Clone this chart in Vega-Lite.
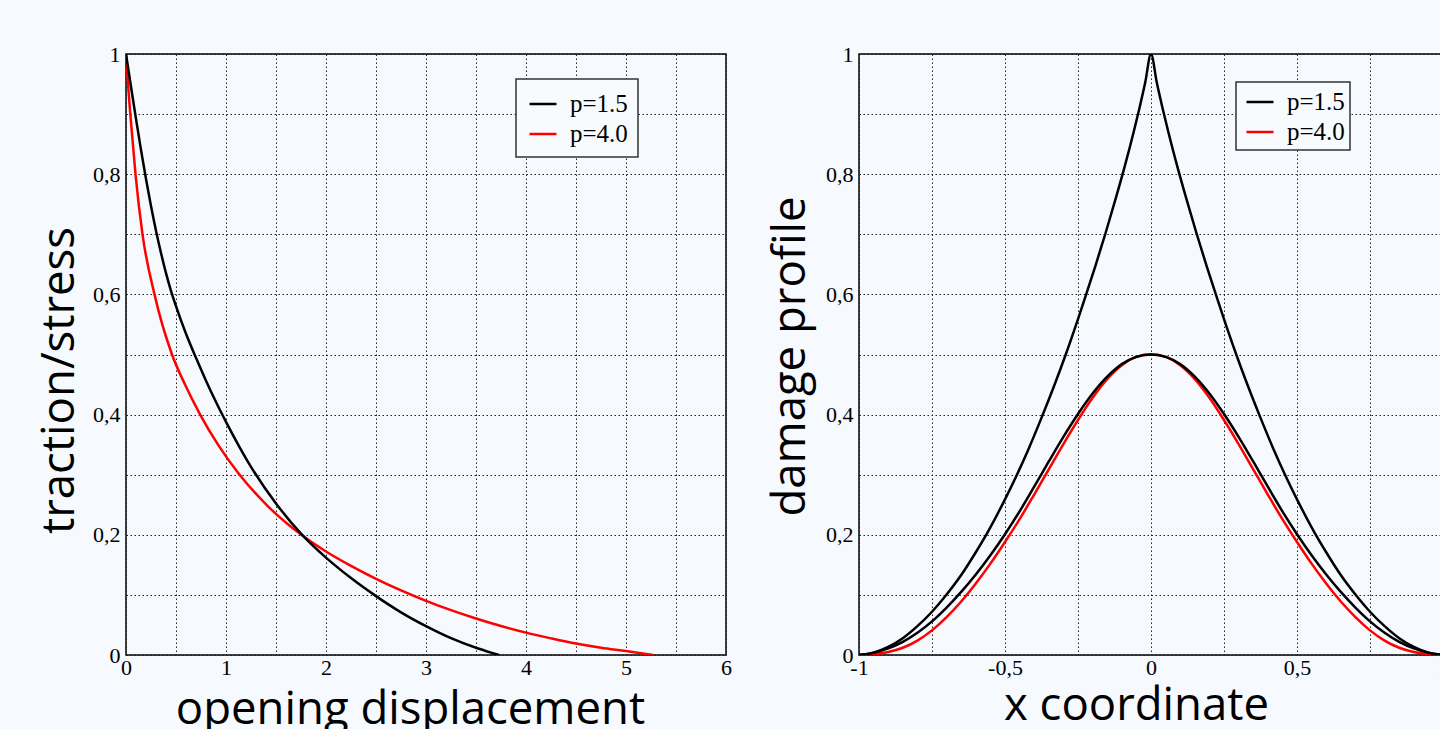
{
  "$schema": "https://vega.github.io/schema/vega-lite/v6.json",
  "background": "#f6f9fd",
  "padding": {"left": 36, "top": 42, "right": 0, "bottom": 0},
  "spacing": 133,
  "bounds": "flush",
  "config": {
    "view": {"stroke": "#000", "strokeWidth": 1.5},
    "axis": {
      "domain": false, "ticks": false, "grid": true,
      "gridColor": "#222", "gridDash": [1.5, 2.5], "gridWidth": 1,
      "labelFont": "Liberation Serif", "labelFontSize": 22, "labelColor": "#000",
      "labelFlush": false, "labelOverlap": false, "labelBound": false,
      "titleFont": "Open Sans", "titleFontSize": 45.5, "titleFontWeight": "normal", "titleColor": "#000"
    },
    "legend": {"strokeWidth": 1.5}
  },
  "datasets": {
    "left": [
      {"disp": 0, "stress": 1, "p": "p=4.0"},
      {"disp": 0.02, "stress": 0.95, "p": "p=4.0"},
      {"disp": 0.043, "stress": 0.9, "p": "p=4.0"},
      {"disp": 0.095, "stress": 0.8, "p": "p=4.0"},
      {"disp": 0.165, "stress": 0.7, "p": "p=4.0"},
      {"disp": 0.285, "stress": 0.6, "p": "p=4.0"},
      {"disp": 0.46, "stress": 0.5, "p": "p=4.0"},
      {"disp": 0.59, "stress": 0.45, "p": "p=4.0"},
      {"disp": 0.74, "stress": 0.4005, "p": "p=4.0"},
      {"disp": 0.925, "stress": 0.3487, "p": "p=4.0"},
      {"disp": 1.13, "stress": 0.3011, "p": "p=4.0"},
      {"disp": 1.42, "stress": 0.2474, "p": "p=4.0"},
      {"disp": 1.76, "stress": 0.1991, "p": "p=4.0"},
      {"disp": 2.0, "stress": 0.1722, "p": "p=4.0"},
      {"disp": 2.25, "stress": 0.1482, "p": "p=4.0"},
      {"disp": 2.5, "stress": 0.1267, "p": "p=4.0"},
      {"disp": 2.75, "stress": 0.1075, "p": "p=4.0"},
      {"disp": 3.0, "stress": 0.0902, "p": "p=4.0"},
      {"disp": 3.25, "stress": 0.0747, "p": "p=4.0"},
      {"disp": 3.5, "stress": 0.0607, "p": "p=4.0"},
      {"disp": 3.75, "stress": 0.0482, "p": "p=4.0"},
      {"disp": 4.0, "stress": 0.0372, "p": "p=4.0"},
      {"disp": 4.25, "stress": 0.0277, "p": "p=4.0"},
      {"disp": 4.5, "stress": 0.019, "p": "p=4.0"},
      {"disp": 4.75, "stress": 0.012, "p": "p=4.0"},
      {"disp": 5.0, "stress": 0.0065, "p": "p=4.0"},
      {"disp": 5.15, "stress": 0.003, "p": "p=4.0"},
      {"disp": 5.27, "stress": 0, "p": "p=4.0"},
      {"disp": 0, "stress": 1, "p": "p=1.5"},
      {"disp": 0.05, "stress": 0.9455, "p": "p=1.5"},
      {"disp": 0.1, "stress": 0.892, "p": "p=1.5"},
      {"disp": 0.15, "stress": 0.8405, "p": "p=1.5"},
      {"disp": 0.2, "stress": 0.792, "p": "p=1.5"},
      {"disp": 0.25, "stress": 0.747, "p": "p=1.5"},
      {"disp": 0.3, "stress": 0.706, "p": "p=1.5"},
      {"disp": 0.35, "stress": 0.669, "p": "p=1.5"},
      {"disp": 0.4, "stress": 0.6355, "p": "p=1.5"},
      {"disp": 0.45, "stress": 0.606, "p": "p=1.5"},
      {"disp": 0.5, "stress": 0.5805, "p": "p=1.5"},
      {"disp": 0.6, "stress": 0.5345, "p": "p=1.5"},
      {"disp": 0.7, "stress": 0.4945, "p": "p=1.5"},
      {"disp": 0.8, "stress": 0.4565, "p": "p=1.5"},
      {"disp": 0.9, "stress": 0.421, "p": "p=1.5"},
      {"disp": 1.0, "stress": 0.388, "p": "p=1.5"},
      {"disp": 1.25, "stress": 0.313, "p": "p=1.5"},
      {"disp": 1.5, "stress": 0.252, "p": "p=1.5"},
      {"disp": 1.75, "stress": 0.202, "p": "p=1.5"},
      {"disp": 2.0, "stress": 0.162, "p": "p=1.5"},
      {"disp": 2.25, "stress": 0.128, "p": "p=1.5"},
      {"disp": 2.5, "stress": 0.098, "p": "p=1.5"},
      {"disp": 2.75, "stress": 0.071, "p": "p=1.5"},
      {"disp": 3.0, "stress": 0.048, "p": "p=1.5"},
      {"disp": 3.25, "stress": 0.028, "p": "p=1.5"},
      {"disp": 3.5, "stress": 0.012, "p": "p=1.5"},
      {"disp": 3.65, "stress": 0.004, "p": "p=1.5"},
      {"disp": 3.73, "stress": 0, "p": "p=1.5"}
    ],
    "right": [
      {"xc": -1, "d": 0, "p": "p=4.0", "curve": "c"},
      {"xc": -0.95, "d": 0.0015, "p": "p=4.0", "curve": "c"},
      {"xc": -0.9, "d": 0.005, "p": "p=4.0", "curve": "c"},
      {"xc": -0.85, "d": 0.012, "p": "p=4.0", "curve": "c"},
      {"xc": -0.8, "d": 0.024, "p": "p=4.0", "curve": "c"},
      {"xc": -0.75, "d": 0.041, "p": "p=4.0", "curve": "c"},
      {"xc": -0.7, "d": 0.063, "p": "p=4.0", "curve": "c"},
      {"xc": -0.65, "d": 0.089, "p": "p=4.0", "curve": "c"},
      {"xc": -0.6, "d": 0.119, "p": "p=4.0", "curve": "c"},
      {"xc": -0.55, "d": 0.152, "p": "p=4.0", "curve": "c"},
      {"xc": -0.5, "d": 0.188, "p": "p=4.0", "curve": "c"},
      {"xc": -0.45, "d": 0.226, "p": "p=4.0", "curve": "c"},
      {"xc": -0.4, "d": 0.267, "p": "p=4.0", "curve": "c"},
      {"xc": -0.35, "d": 0.309, "p": "p=4.0", "curve": "c"},
      {"xc": -0.3, "d": 0.351, "p": "p=4.0", "curve": "c"},
      {"xc": -0.25, "d": 0.391, "p": "p=4.0", "curve": "c"},
      {"xc": -0.2, "d": 0.428, "p": "p=4.0", "curve": "c"},
      {"xc": -0.15, "d": 0.459, "p": "p=4.0", "curve": "c"},
      {"xc": -0.1, "d": 0.482, "p": "p=4.0", "curve": "c"},
      {"xc": -0.05, "d": 0.496, "p": "p=4.0", "curve": "c"},
      {"xc": 0, "d": 0.5, "p": "p=4.0", "curve": "c"},
      {"xc": 0.05, "d": 0.496, "p": "p=4.0", "curve": "c"},
      {"xc": 0.1, "d": 0.482, "p": "p=4.0", "curve": "c"},
      {"xc": 0.15, "d": 0.459, "p": "p=4.0", "curve": "c"},
      {"xc": 0.2, "d": 0.428, "p": "p=4.0", "curve": "c"},
      {"xc": 0.25, "d": 0.391, "p": "p=4.0", "curve": "c"},
      {"xc": 0.3, "d": 0.351, "p": "p=4.0", "curve": "c"},
      {"xc": 0.35, "d": 0.309, "p": "p=4.0", "curve": "c"},
      {"xc": 0.4, "d": 0.267, "p": "p=4.0", "curve": "c"},
      {"xc": 0.45, "d": 0.226, "p": "p=4.0", "curve": "c"},
      {"xc": 0.5, "d": 0.188, "p": "p=4.0", "curve": "c"},
      {"xc": 0.55, "d": 0.152, "p": "p=4.0", "curve": "c"},
      {"xc": 0.6, "d": 0.119, "p": "p=4.0", "curve": "c"},
      {"xc": 0.65, "d": 0.089, "p": "p=4.0", "curve": "c"},
      {"xc": 0.7, "d": 0.063, "p": "p=4.0", "curve": "c"},
      {"xc": 0.75, "d": 0.041, "p": "p=4.0", "curve": "c"},
      {"xc": 0.8, "d": 0.024, "p": "p=4.0", "curve": "c"},
      {"xc": 0.85, "d": 0.012, "p": "p=4.0", "curve": "c"},
      {"xc": 0.9, "d": 0.005, "p": "p=4.0", "curve": "c"},
      {"xc": 0.95, "d": 0.0015, "p": "p=4.0", "curve": "c"},
      {"xc": 1, "d": 0, "p": "p=4.0", "curve": "c"},

      {"xc": -1, "d": 0, "p": "p=1.5", "curve": "b"},
      {"xc": -0.95, "d": 0.004, "p": "p=1.5", "curve": "b"},
      {"xc": -0.9, "d": 0.011, "p": "p=1.5", "curve": "b"},
      {"xc": -0.85, "d": 0.022, "p": "p=1.5", "curve": "b"},
      {"xc": -0.8, "d": 0.037, "p": "p=1.5", "curve": "b"},
      {"xc": -0.75, "d": 0.056, "p": "p=1.5", "curve": "b"},
      {"xc": -0.7, "d": 0.079, "p": "p=1.5", "curve": "b"},
      {"xc": -0.65, "d": 0.105, "p": "p=1.5", "curve": "b"},
      {"xc": -0.6, "d": 0.134, "p": "p=1.5", "curve": "b"},
      {"xc": -0.55, "d": 0.166, "p": "p=1.5", "curve": "b"},
      {"xc": -0.5, "d": 0.201, "p": "p=1.5", "curve": "b"},
      {"xc": -0.45, "d": 0.239, "p": "p=1.5", "curve": "b"},
      {"xc": -0.4, "d": 0.28, "p": "p=1.5", "curve": "b"},
      {"xc": -0.35, "d": 0.322, "p": "p=1.5", "curve": "b"},
      {"xc": -0.3, "d": 0.363, "p": "p=1.5", "curve": "b"},
      {"xc": -0.25, "d": 0.401, "p": "p=1.5", "curve": "b"},
      {"xc": -0.2, "d": 0.435, "p": "p=1.5", "curve": "b"},
      {"xc": -0.15, "d": 0.463, "p": "p=1.5", "curve": "b"},
      {"xc": -0.1, "d": 0.484, "p": "p=1.5", "curve": "b"},
      {"xc": -0.05, "d": 0.496, "p": "p=1.5", "curve": "b"},
      {"xc": 0, "d": 0.5, "p": "p=1.5", "curve": "b"},
      {"xc": 0.05, "d": 0.496, "p": "p=1.5", "curve": "b"},
      {"xc": 0.1, "d": 0.484, "p": "p=1.5", "curve": "b"},
      {"xc": 0.15, "d": 0.463, "p": "p=1.5", "curve": "b"},
      {"xc": 0.2, "d": 0.435, "p": "p=1.5", "curve": "b"},
      {"xc": 0.25, "d": 0.401, "p": "p=1.5", "curve": "b"},
      {"xc": 0.3, "d": 0.363, "p": "p=1.5", "curve": "b"},
      {"xc": 0.35, "d": 0.322, "p": "p=1.5", "curve": "b"},
      {"xc": 0.4, "d": 0.28, "p": "p=1.5", "curve": "b"},
      {"xc": 0.45, "d": 0.239, "p": "p=1.5", "curve": "b"},
      {"xc": 0.5, "d": 0.201, "p": "p=1.5", "curve": "b"},
      {"xc": 0.55, "d": 0.166, "p": "p=1.5", "curve": "b"},
      {"xc": 0.6, "d": 0.134, "p": "p=1.5", "curve": "b"},
      {"xc": 0.65, "d": 0.105, "p": "p=1.5", "curve": "b"},
      {"xc": 0.7, "d": 0.079, "p": "p=1.5", "curve": "b"},
      {"xc": 0.75, "d": 0.056, "p": "p=1.5", "curve": "b"},
      {"xc": 0.8, "d": 0.037, "p": "p=1.5", "curve": "b"},
      {"xc": 0.85, "d": 0.022, "p": "p=1.5", "curve": "b"},
      {"xc": 0.9, "d": 0.011, "p": "p=1.5", "curve": "b"},
      {"xc": 0.95, "d": 0.004, "p": "p=1.5", "curve": "b"},
      {"xc": 1, "d": 0, "p": "p=1.5", "curve": "b"},

      {"xc": -1, "d": 0, "p": "p=1.5", "curve": "a"},
      {"xc": -0.95, "d": 0.004, "p": "p=1.5", "curve": "a"},
      {"xc": -0.9, "d": 0.0135, "p": "p=1.5", "curve": "a"},
      {"xc": -0.85, "d": 0.028, "p": "p=1.5", "curve": "a"},
      {"xc": -0.8, "d": 0.048, "p": "p=1.5", "curve": "a"},
      {"xc": -0.75, "d": 0.072, "p": "p=1.5", "curve": "a"},
      {"xc": -0.711, "d": 0.094, "p": "p=1.5", "curve": "a"},
      {"xc": -0.65, "d": 0.133, "p": "p=1.5", "curve": "a"},
      {"xc": -0.6, "d": 0.171, "p": "p=1.5", "curve": "a"},
      {"xc": -0.562, "d": 0.202, "p": "p=1.5", "curve": "a"},
      {"xc": -0.5, "d": 0.259, "p": "p=1.5", "curve": "a"},
      {"xc": -0.459, "d": 0.3, "p": "p=1.5", "curve": "a"},
      {"xc": -0.42, "d": 0.342, "p": "p=1.5", "curve": "a"},
      {"xc": -0.373, "d": 0.397, "p": "p=1.5", "curve": "a"},
      {"xc": -0.33, "d": 0.45, "p": "p=1.5", "curve": "a"},
      {"xc": -0.292, "d": 0.5, "p": "p=1.5", "curve": "a"},
      {"xc": -0.25, "d": 0.559, "p": "p=1.5", "curve": "a"},
      {"xc": -0.224, "d": 0.597, "p": "p=1.5", "curve": "a"},
      {"xc": -0.19, "d": 0.648, "p": "p=1.5", "curve": "a"},
      {"xc": -0.155, "d": 0.703, "p": "p=1.5", "curve": "a"},
      {"xc": -0.12, "d": 0.761, "p": "p=1.5", "curve": "a"},
      {"xc": -0.09, "d": 0.813, "p": "p=1.5", "curve": "a"},
      {"xc": -0.06, "d": 0.869, "p": "p=1.5", "curve": "a"},
      {"xc": -0.04, "d": 0.909, "p": "p=1.5", "curve": "a"},
      {"xc": -0.02, "d": 0.952, "p": "p=1.5", "curve": "a"},
      {"xc": 0, "d": 1.0, "p": "p=1.5", "curve": "a"},
      {"xc": 0.02, "d": 0.952, "p": "p=1.5", "curve": "a"},
      {"xc": 0.04, "d": 0.909, "p": "p=1.5", "curve": "a"},
      {"xc": 0.06, "d": 0.869, "p": "p=1.5", "curve": "a"},
      {"xc": 0.09, "d": 0.813, "p": "p=1.5", "curve": "a"},
      {"xc": 0.12, "d": 0.761, "p": "p=1.5", "curve": "a"},
      {"xc": 0.155, "d": 0.703, "p": "p=1.5", "curve": "a"},
      {"xc": 0.19, "d": 0.648, "p": "p=1.5", "curve": "a"},
      {"xc": 0.224, "d": 0.597, "p": "p=1.5", "curve": "a"},
      {"xc": 0.25, "d": 0.559, "p": "p=1.5", "curve": "a"},
      {"xc": 0.292, "d": 0.5, "p": "p=1.5", "curve": "a"},
      {"xc": 0.33, "d": 0.45, "p": "p=1.5", "curve": "a"},
      {"xc": 0.373, "d": 0.397, "p": "p=1.5", "curve": "a"},
      {"xc": 0.42, "d": 0.342, "p": "p=1.5", "curve": "a"},
      {"xc": 0.459, "d": 0.3, "p": "p=1.5", "curve": "a"},
      {"xc": 0.5, "d": 0.259, "p": "p=1.5", "curve": "a"},
      {"xc": 0.562, "d": 0.202, "p": "p=1.5", "curve": "a"},
      {"xc": 0.6, "d": 0.171, "p": "p=1.5", "curve": "a"},
      {"xc": 0.65, "d": 0.133, "p": "p=1.5", "curve": "a"},
      {"xc": 0.711, "d": 0.094, "p": "p=1.5", "curve": "a"},
      {"xc": 0.75, "d": 0.072, "p": "p=1.5", "curve": "a"},
      {"xc": 0.8, "d": 0.048, "p": "p=1.5", "curve": "a"},
      {"xc": 0.85, "d": 0.028, "p": "p=1.5", "curve": "a"},
      {"xc": 0.9, "d": 0.0135, "p": "p=1.5", "curve": "a"},
      {"xc": 0.95, "d": 0.004, "p": "p=1.5", "curve": "a"},
      {"xc": 1, "d": 0, "p": "p=1.5", "curve": "a"}
    ]
  },
  "hconcat": [
    {
      "width": 600,
      "height": 601,
      "data": {"name": "left"},
      "mark": {"type": "line", "strokeWidth": 2.5, "interpolate": "monotone", "clip": true},
      "encoding": {
        "x": {
          "field": "disp", "type": "quantitative",
          "scale": {"domain": [0, 6], "nice": false, "zero": false},
          "axis": {
            "values": [0, 0.5, 1, 1.5, 2, 2.5, 3, 3.5, 4, 4.5, 5, 5.5, 6],
            "labelExpr": "datum.value % 1 == 0 ? toString(datum.value) : ''",
            "labelPadding": 2,
            "title": "opening displacement",
            "titleX": 284, "titleY": 68, "titleBaseline": "alphabetic", "titleAlign": "center"
          }
        },
        "y": {
          "field": "stress", "type": "quantitative",
          "scale": {"domain": [0, 1], "nice": false},
          "axis": {
            "values": [0, 0.1, 0.2, 0.3, 0.4, 0.5, 0.6, 0.7, 0.8, 0.9, 1],
            "labelExpr": "round(datum.value * 10) % 2 == 0 ? replace(toString(datum.value), '.', ',') : ''",
            "labelPadding": 6,
            "title": "traction/stress",
            "titleX": -53, "titleY": 326, "titleAngle": 270, "titleBaseline": "alphabetic", "titleAlign": "center"
          }
        },
        "color": {
          "field": "p", "type": "nominal",
          "scale": {"domain": ["p=1.5", "p=4.0"], "range": ["#000000", "#ff0000"]},
          "legend": {
            "orient": "none", "legendX": 390, "legendY": 25, "title": null,
            "strokeColor": "#333", "fillColor": "#f8fbfe", "padding": 10, "rowPadding": 2,
            "symbolType": "stroke", "symbolSize": 729, "symbolStrokeWidth": 2.5, "symbolOffset": 2,
            "labelFont": "Liberation Serif", "labelFontSize": 25, "labelColor": "#000", "labelOffset": 12
          }
        }
      }
    },
    {
      "width": 584,
      "height": 601,
      "data": {"name": "right"},
      "mark": {"type": "line", "strokeWidth": 2.5, "interpolate": "monotone", "clip": true},
      "encoding": {
        "x": {
          "field": "xc", "type": "quantitative",
          "scale": {"domain": [-1, 1], "nice": false, "zero": false},
          "axis": {
            "values": [-1, -0.75, -0.5, -0.25, 0, 0.25, 0.5, 0.75, 1],
            "labelExpr": "round(datum.value * 4) % 2 == 0 ? replace(toString(datum.value), '.', ',') : ''",
            "labelPadding": 2,
            "title": "x coordinate",
            "titleX": 277, "titleY": 64, "titleBaseline": "alphabetic", "titleAlign": "center"
          }
        },
        "y": {
          "field": "d", "type": "quantitative",
          "scale": {"domain": [0, 1], "nice": false},
          "axis": {
            "values": [0, 0.1, 0.2, 0.3, 0.4, 0.5, 0.6, 0.7, 0.8, 0.9, 1],
            "labelExpr": "round(datum.value * 10) % 2 == 0 ? replace(toString(datum.value), '.', ',') : ''",
            "labelPadding": 6,
            "title": "damage profile",
            "titleX": -55, "titleY": 302, "titleAngle": 270, "titleBaseline": "alphabetic", "titleAlign": "center"
          }
        },
        "detail": {"field": "curve", "type": "nominal"},
        "color": {
          "field": "p", "type": "nominal",
          "scale": {"domain": ["p=1.5", "p=4.0"], "range": ["#000000", "#ff0000"]},
          "legend": {
            "orient": "none", "legendX": 377, "legendY": 28, "title": null,
            "strokeColor": "#333", "fillColor": "#f8fbfe", "padding": 5, "rowPadding": 2,
            "symbolType": "stroke", "symbolSize": 729, "symbolStrokeWidth": 2.5, "symbolOffset": 4,
            "labelFont": "Liberation Serif", "labelFontSize": 25, "labelColor": "#000", "labelOffset": 12
          }
        }
      }
    }
  ],
  "resolve": {"scale": {"color": "independent"}, "legend": {"color": "independent"}}
}
